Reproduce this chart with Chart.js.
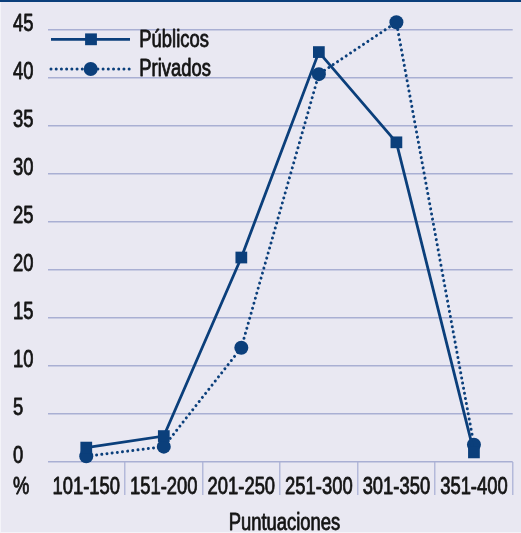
<!DOCTYPE html>
<html><head><meta charset="utf-8">
<script src="https://cdn.jsdelivr.net/npm/chart.js@4"></script>
<style>
html,body{margin:0;padding:0;background:#e9e8f2;}
canvas{display:block;}
</style></head>
<body><canvas id="c" width="521" height="533"></canvas>
<script>
const categories = ['101-150','151-200','201-250','251-300','301-350','351-400'];
const publicos = [1.5, 2.7, 21.3, 42.7, 33.3, 1.0];
const privados = [0.6, 1.6, 11.9, 40.4, 45.8, 1.8];
const yTicks = [0,5,10,15,20,25,30,35,40,45];
const seriesNames = ['Públicos','Privados'];
const xTitle = 'Puntuaciones';
const yUnit = '%';

const BLUE = '#0b3f7b';
const GRID = '#a9afd3';
const TICKC = '#b4b9da';
const TXT = '#141414';
const FONT = '"Liberation Sans", Arial, sans-serif';
const FSIZE = 23;
const SX = 0.8;

function narrowText(ctx, text, x, y, align, size){
  ctx.save();
  ctx.font = size + 'px ' + FONT;
  ctx.fillStyle = TXT;
  ctx.strokeStyle = TXT;
  ctx.lineWidth = 0.8;
  ctx.lineJoin = 'round';
  ctx.textBaseline = 'alphabetic';
  ctx.textAlign = 'left';
  const w = ctx.measureText(text).width * SX;
  let x0 = x;
  if (align === 'center') x0 = x - w/2;
  else if (align === 'right') x0 = x - w;
  ctx.translate(x0, y);
  ctx.scale(SX, 1);
  ctx.fillText(text, 0, 0);
  ctx.strokeText(text, 0, 0);
  ctx.restore();
}

const extras = {
  id:'extras',
  beforeDraw(chart){
    const ctx = chart.ctx;
    ctx.save();
    ctx.fillStyle = '#e9e8f2';
    ctx.fillRect(0,0,chart.width,chart.height);
    ctx.fillStyle = '#f4f4f9';
    ctx.fillRect(0,0,1,chart.height);
    ctx.fillRect(0,chart.height-1,chart.width,1);
    ctx.fillStyle = BLUE;
    ctx.fillRect(0,0,chart.width,2);
    ctx.restore();
  },
  afterDraw(chart){
    const ctx = chart.ctx;
    const xs = chart.scales.x, ys = chart.scales.y;
    yTicks.forEach(v=>{
      narrowText(ctx, String(v), 13, ys.getPixelForValue(v) + 1, 'left', FSIZE);
    });
    categories.forEach((c,i)=>{
      narrowText(ctx, c, xs.getPixelForValue(i), 493.5, 'center', FSIZE);
    });
    narrowText(ctx, yUnit, 13, 493.5, 'left', FSIZE);
    narrowText(ctx, xTitle, 284.5, 529.5, 'center', FSIZE);
    ctx.save();
    const items = [
      {name: seriesNames[0], y: 39.3, base: 46.5, dash: [], style: 'rect'},
      {name: seriesNames[1], y: 69, base: 76, dash: [0.01,5.2], style: 'circle'}
    ];
    items.forEach(it=>{
      ctx.strokeStyle = BLUE;
      ctx.lineWidth = it.dash.length ? 3 : 2.8;
      ctx.lineCap = it.dash.length ? 'round' : 'butt';
      ctx.setLineDash(it.dash);
      ctx.beginPath(); ctx.moveTo(51, it.y); ctx.lineTo(130, it.y); ctx.stroke();
      ctx.setLineDash([]);
      ctx.fillStyle = BLUE;
      if (it.style==='rect'){ ctx.fillRect(91-5.9, it.y-5.9, 11.8, 11.8); }
      else { ctx.beginPath(); ctx.arc(90.7, it.y, 7, 0, Math.PI*2); ctx.fill(); }
      narrowText(ctx, it.name, 139.3, it.base, 'left', FSIZE);
    });
    ctx.restore();
  }
};

new Chart(document.getElementById('c'), {
  type: 'line',
  data: {
    labels: categories,
    datasets: [
      {label: seriesNames[0], data: publicos, borderColor: BLUE, backgroundColor: BLUE,
       borderWidth: 2.8, pointStyle: 'rect', pointRadius: 8.3, pointHoverRadius: 8.3,
       pointBorderWidth: 0, clip: false, tension: 0},
      {label: seriesNames[1], data: privados, borderColor: BLUE, backgroundColor: BLUE,
       borderWidth: 3, borderDash: [0.01,5.2], borderCapStyle: 'round', pointStyle: 'circle',
       pointRadius: 7, pointHoverRadius: 7, pointBorderWidth: 0, clip: false, tension: 0}
    ]
  },
  options: {
    responsive: false, animation: false,
    layout: {padding: {left: 0, right: -1.7, top: 10.8, bottom: 0}},
    plugins: {legend: {display: false}, tooltip: {enabled: false}},
    scales: {
      x: {
        offset: true,
        afterFit: (s)=>{ s.height = 71; },
        grid: {offset: true, drawOnChartArea: false, drawTicks: true, tickLength: 33,
               color: (c)=> c.index===0 ? 'rgba(0,0,0,0)' : TICKC, lineWidth: 1.5},
        border: {display: false},
        ticks: {display: false}
      },
      y: {
        min: 0, max: 47,
        afterBuildTicks: (s)=>{ s.ticks = yTicks.map(v=>({value:v})); },
        afterFit: (s)=>{ s.width = 47.5; },
        grid: {color: GRID, lineWidth: 1.5, drawTicks: false},
        border: {display: false},
        ticks: {display: false}
      }
    }
  },
  plugins: [extras]
});
</script></body></html>
